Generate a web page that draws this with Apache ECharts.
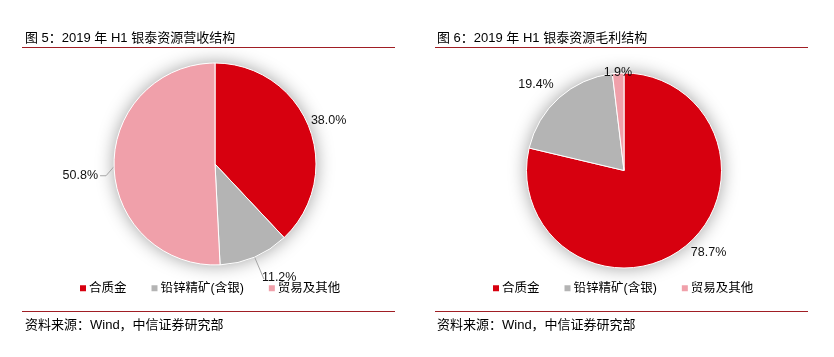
<!DOCTYPE html>
<html>
<head>
<meta charset="utf-8">
<script src="https://cdn.jsdelivr.net/npm/echarts@6/dist/echarts.min.js"></script>
<style>html,body{margin:0;padding:0;background:#fff}#c{width:834px;height:357px}</style>
</head>
<body>
<div id="c"></div>
<script>
// ---- data ----
const categories = ['合质金', '铅锌精矿(含银)', '贸易及其他'];
const revenueShare = [38.0, 11.2, 50.8];   // 图5 营收结构 (%)
const profitShare = [78.7, 19.4, 1.9];     // 图6 毛利结构 (%)
const titles = ['图 5：2019 年 H1 银泰资源营收结构', '图 6：2019 年 H1 银泰资源毛利结构'];
const sourceText = '资料来源：Wind，中信证券研究部';

// ---- styles ----
const colors = ['#D7000F', '#B4B4B4', '#F0A0AA'];
const FONT = "'Liberation Sans', Arial, 'Noto Sans CJK SC', sans-serif";
const ruleColor = '#A01E24';

// per-label line settings and fine offsets (left pie, right pie)
const lineCfg = [
  [{show:false,length:0,length2:0},{show:true,length:24,length2:0},{show:true,length:8,length2:6}],
  [{show:false,length:7,length2:0},{show:false,length:8,length2:0},{show:false,length:0,length2:0}]
];
const labelShift = [
  [[0,-6],[-4,-1],[0,9]],
  [[0,0],[2,-7],[16,-1]]
];

function buildData(values, p) {
  return values.map((v, i) => ({
    name: categories[i],
    value: v,
    itemStyle: {color: colors[i]},
    labelLine: Object.assign({lineStyle:{color:'#A6A6A6', width:1}}, lineCfg[p][i])
  }));
}

function pieSeries(values, p, center, radius) {
  return {
    type: 'pie',
    z: 3,
    center: center,
    radius: radius,
    startAngle: 90,
    clockwise: true,
    avoidLabelOverlap: false,
    minShowLabelAngle: 0,
    animation: false,
    silent: true,
    itemStyle: {borderColor: '#fff', borderWidth: 1},
    label: {
      show: true,
      position: 'outside',
      distanceToLabelLine: 2,
      formatter: (q) => q.value.toFixed(1) + '%',
      fontFamily: FONT,
      fontSize: 12.5,
      color: '#111'
    },
    labelLayout: function (params) {
      const s = labelShift[p][params.dataIndex];
      const res = {dx: s[0], dy: s[1]};
      if (params.labelLinePoints && p === 0 && params.dataIndex === 2) {
        const pts = params.labelLinePoints;
        res.labelLinePoints = [pts[0], [pts[1][0], pts[1][1] + s[1]], [pts[2][0], pts[2][1] + s[1]]];
      }
      return res;
    },
    data: buildData(values, p)
  };
}

function shadowSeries(center, radius) {
  return {
    type: 'pie', z: 1, center: center, radius: radius, silent: true, animation: false,
    label: {show: false}, labelLine: {show: false},
    itemStyle: {color: '#fff', shadowBlur: 18, shadowColor: 'rgba(0,0,0,0.38)'},
    data: [{value: 1, name: 'bg'}]
  };
}

function legendAt(left) {
  return {
    data: categories, left: left, top: 282, orient: 'horizontal', padding: 0,
    icon: 'rect', itemWidth: 6, itemHeight: 6, itemGap: 25, selectedMode: false,
    itemStyle: {borderWidth: 0},
    textStyle: {fontFamily: FONT, fontSize: 12.5, color: '#000', padding: [0,0,0,-2]}
  };
}

function textEl(x, y, t) {
  return {type: 'text', x: x, y: y, silent: true,
    style: {text: t, font: '13px ' + FONT, fill: '#000', textVerticalAlign: 'middle', verticalAlign: 'middle'}};
}
function ruleEl(x1, x2, y) {
  return {type: 'line', silent: true, shape: {x1: x1, y1: y, x2: x2, y2: y}, style: {stroke: ruleColor, lineWidth: 1}};
}

const chart = echarts.init(document.getElementById('c'), null, {renderer: 'canvas'});
chart.setOption({
  animation: false,
  backgroundColor: '#fff',
  legend: [legendAt(80), legendAt(493)],
  graphic: [
    textEl(25, 38, titles[0]), textEl(437, 38, titles[1]),
    ruleEl(22, 395, 47.5), ruleEl(435, 808, 47.5),
    ruleEl(22, 395, 311.5), ruleEl(435, 808, 311.5),
    textEl(25, 325, sourceText), textEl(437, 325, sourceText)
  ],
  series: [
    shadowSeries([215, 164], 101),
    shadowSeries([624, 170.5], 97.5),
    pieSeries(revenueShare, 0, [215, 164], 101),
    pieSeries(profitShare, 1, [624, 170.5], 97.5)
  ]
});
</script>
</body>
</html>
